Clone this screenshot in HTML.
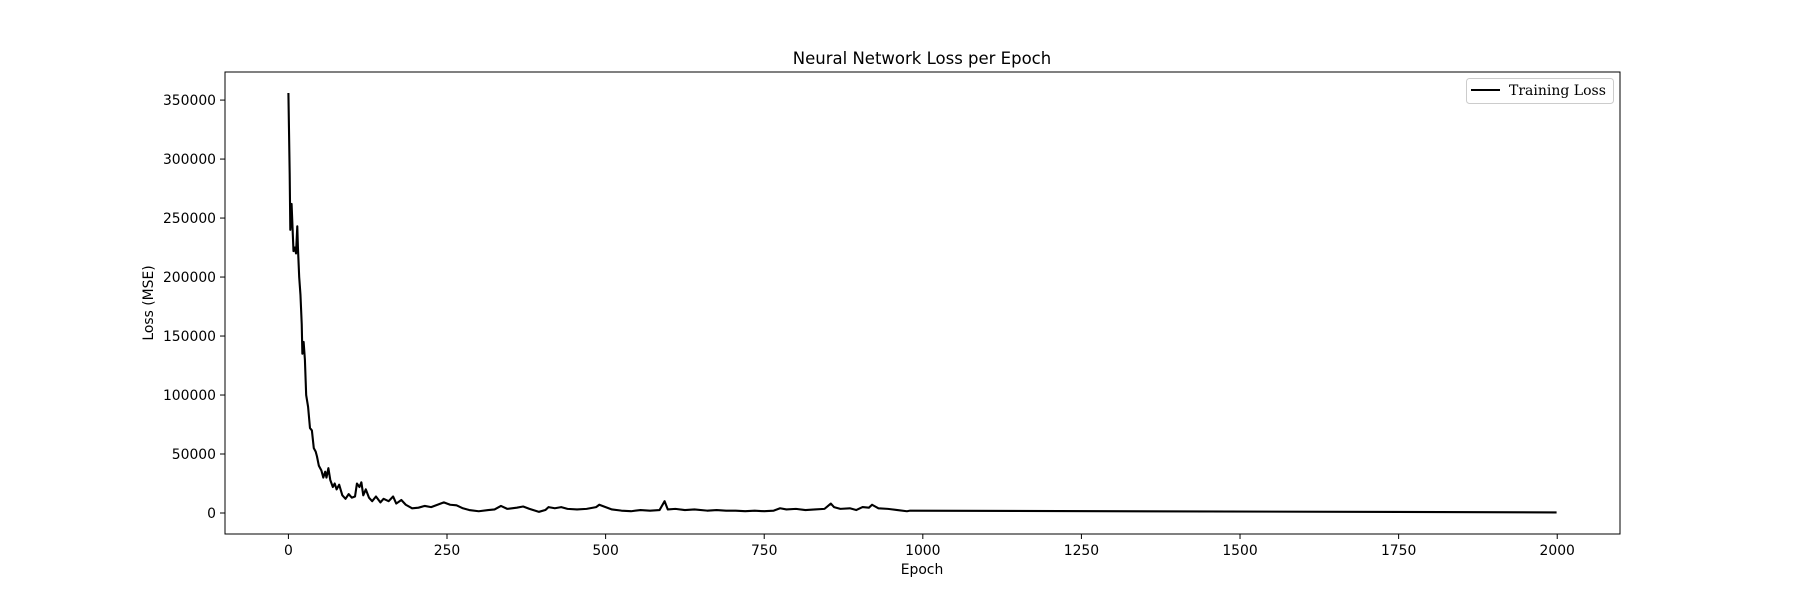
<!DOCTYPE html>
<html><head><meta charset="utf-8"><style>
html,body{margin:0;padding:0;background:#fff;}
svg{display:block;font-family:"DejaVu Sans","Liberation Sans",sans-serif;}
</style></head><body>
<svg id="chart" width="1800" height="600" viewBox="0 0 1800 600" xmlns="http://www.w3.org/2000/svg">
<rect x="0" y="0" width="1800" height="600" fill="#fff"/>
<text x="922" y="64" font-size="16.5" text-anchor="middle">Neural Network Loss per Epoch</text>
<g id="xticks"></g>
<g id="yticks"></g>
<g id="series"></g>
<rect x="225" y="72" width="1395" height="462" fill="none" stroke="#000" stroke-width="1"/>
<text x="922" y="574" font-size="13.9" text-anchor="middle">Epoch</text>
<text x="153" y="303" font-size="13.9" text-anchor="middle" transform="rotate(-90 153 303)">Loss (MSE)</text>
<g>
<rect x="1466.5" y="78.5" width="147" height="25" rx="3" fill="#fff" stroke="#ccc" stroke-width="1"/>
<line x1="1471" y1="90" x2="1500" y2="90" stroke="#000" stroke-width="2.1"/>
<text x="1509" y="95" font-size="14" font-family="DejaVu Serif, Liberation Serif, serif">Training Loss</text>
</g>
</svg>
<script>
const epochs=[0,2,3,5,8,10,12,14,15,17,19,21,22,24,26,28,31,34,37,40,43,45,48,52,55,58,60,63,66,70,73,76,80,85,90,95,100,105,108,112,115,118,122,127,132,138,145,150,158,165,170,178,185,195,205,215,225,235,245,255,265,275,285,300,315,325,335,345,360,370,380,395,405,410,420,430,440,455,470,485,490,500,510,525,540,555,570,585,593,598,610,625,640,660,675,690,705,720,735,750,765,775,785,800,815,830,845,855,860,870,885,895,905,915,920,930,945,960,975,980,1999];
const losses=[356000,288000,240000,262000,222000,225000,220000,243000,225000,200000,185000,160000,135000,145000,130000,100000,90000,72000,70000,55000,52000,48000,40000,36000,30000,35000,30000,38000,28000,22000,25000,20000,24000,15000,12000,16000,13000,14000,25000,22000,26000,15000,20000,13000,10000,14000,9000,12000,10000,14000,8000,11000,7000,4000,4500,6000,5000,7000,9000,7000,6500,4000,2500,1500,2500,3000,6000,3500,4500,5500,3500,1000,2500,5000,4000,5000,3500,3000,3500,5000,7000,5000,3000,2000,1500,2500,2000,2500,10000,3000,3500,2500,3000,2000,2500,2000,2000,1500,2000,1500,2000,4000,3000,3500,2500,3000,3500,8000,5000,3500,4000,2500,5000,4500,7000,4000,3500,2500,1500,2000,500];
const xTicks=[0,250,500,750,1000,1250,1500,1750,2000];
const yTicks=[0,50000,100000,150000,200000,250000,300000,350000];
const L=225,R=1620,T=72,B=534;
const xmin=-99.95,xmax=2098.95,ymin=-17800,ymax=373800;
function xs(v){return L+(v-xmin)/(xmax-xmin)*(R-L);}
function ys(v){return B-(v-ymin)/(ymax-ymin)*(B-T);}
const NS="http://www.w3.org/2000/svg";
const xg=document.getElementById('xticks'),yg=document.getElementById('yticks'),sg=document.getElementById('series');
xTicks.forEach(t=>{
 const l=document.createElementNS(NS,'line');
 l.setAttribute('x1',xs(t));l.setAttribute('x2',xs(t));l.setAttribute('y1',B);l.setAttribute('y2',B+5);
 l.setAttribute('stroke','#000');
 
 
 xg.appendChild(l);
 const tx=document.createElementNS(NS,'text');
 tx.setAttribute('x',xs(t));tx.setAttribute('y',B+21);tx.setAttribute('font-size','13.9');tx.setAttribute('text-anchor','middle');
 tx.textContent=t;
 
 
 xg.appendChild(tx);
});
yTicks.forEach(t=>{
 const l=document.createElementNS(NS,'line');
 l.setAttribute('x1',L-5);l.setAttribute('x2',L);l.setAttribute('y1',ys(t));l.setAttribute('y2',ys(t));
 l.setAttribute('stroke','#000');
 
 
 yg.appendChild(l);
 const tx=document.createElementNS(NS,'text');
 tx.setAttribute('x',L-9);tx.setAttribute('y',ys(t)+5);tx.setAttribute('font-size','13.9');tx.setAttribute('text-anchor','end');
 tx.textContent=t;
 
 
 yg.appendChild(tx);
});
const p=document.createElementNS(NS,'polyline');
p.setAttribute('points',epochs.map((e,i)=>xs(e).toFixed(2)+','+ys(losses[i]).toFixed(2)).join(' '));
p.setAttribute('fill','none');p.setAttribute('stroke','#000');p.setAttribute('stroke-width','2.1');p.setAttribute('stroke-linejoin','round');


sg.appendChild(p);
</script>
</body></html>
